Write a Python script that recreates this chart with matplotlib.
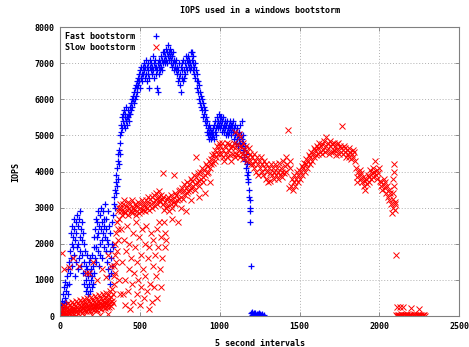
import matplotlib
matplotlib.use("Agg")
import matplotlib.pyplot as plt

# IOPS samples, (interval, iops)
fast = [
    # start, low
    (2,150),(5,300),(8,100),(12,420),(15,250),(18,600),(22,350),(25,800),(28,500),(32,950),
    (35,700),(38,400),(42,1100),(45,850),(48,600),(52,1300),(55,900),(58,1500),
    # first hump
    (62,1800),(65,1200),(68,2300),(70,1600),(72,2000),(75,2500),(78,1400),(80,2200),(82,1900),(85,2700),
    (88,1700),(90,2400),(92,1100),(95,2100),(98,2600),(100,1500),(103,2300),(105,1900),(108,2800),(110,1300),
    (112,2500),(115,2000),(118,1600),(120,2700),(122,2200),(125,1800),(128,2900),(130,2400),(132,1400),(135,2100),
    (138,2600),(140,1700),(142,2300),(145,1200),(148,2000),
    # dip
    (150,1500),(153,900),(156,1800),(158,1200),(160,700),(163,1400),(165,1000),(168,1700),(170,800),(172,1300),
    (175,600),(178,1100),(180,1500),(183,900),(185,1200),(188,700),(190,1600),(193,1000),(195,1300),(198,800),
    (200,1100),(203,1700),(205,900),(208,1400),(210,1900),(212,1200),(215,2200),(218,1600),
    # second hump
    (220,2400),(223,1900),(225,2700),(228,1500),(230,2200),(233,2600),(235,1800),(238,2900),(240,2300),(243,1400),
    (245,2500),(248,2000),(250,2800),(253,1700),(255,2400),(258,3000),(260,2100),(263,2600),(265,1600),(268,2900),
    (270,2300),(273,2700),(275,1900),(278,2500),(280,3100),(283,2200),(285,1800),(288,2700),(290,2400),(293,1500),
    (295,2100),(298,2900),(300,1300),(303,2000),(305,2500),(308,1100),(310,1800),(313,2300),(315,900),(318,1600),
    (320,1200),(323,2000),(325,1400),(328,2600),(330,1900),
    # ramp up
    (333,2800),(336,3100),(339,3300),(342,3000),(345,3500),(348,3700),(350,3400),(353,3900),(355,3600),(358,4100),
    (360,3800),(363,4300),(365,4500),(368,4200),(370,4600),(373,4800),(375,4500),(378,5000),(380,5100),
    # shoulder
    (383,5300),(386,5500),(389,5200),(392,5600),(395,5400),(398,5700),(401,5300),(404,5500),(407,5200),(410,5600),
    (413,5400),(416,5800),(419,5500),(422,5300),(425,5700),(428,5500),(431,5600),(434,5400),(437,5800),(440,5600),
    (443,5900),(446,5700),(449,6000),
    (452,5800),(455,6000),(458,6100),(461,5900),(464,6200),(467,6000),(470,6300),(473,6100),(476,6400),(479,6200),
    (482,6500),(485,6300),(488,6600),(491,6400),(494,6700),(497,6500),(500,6300),(503,6800),(506,6600),(509,6900),
    (512,6700),(515,6500),(518,6900),(521,6700),(524,7000),(527,6800),(530,6600),(533,6900),(536,7100),(539,6700),
    (542,6500),(545,6900),(548,6700),(551,7000),(554,6800),(557,6300),
    # top
    (560,6600),(563,6900),(566,7100),(569,6800),(572,7000),(575,6700),(578,6900),(581,7200),(584,6800),(587,7000),
    (590,6600),(593,6900),(596,7100),(599,6700),(602,6900),(605,6300),(608,6800),(611,6200),(614,7000),(617,6700),
    (620,6900),(623,7100),(626,6800),(629,7000),(632,7200),(635,6900),(638,7100),(641,6800),(644,7000),(647,7300),
    (650,7100),(653,7300),(656,7000),(659,7200),(662,7400),(665,7100),(668,7300),(671,7000),(674,7200),(677,7500),
    (680,7300),(683,7100),(686,7400),(689,7200),(692,7000),(695,7300),(698,7100),(701,6900),(704,7200),(707,7000),
    (710,7300),(713,6800),(716,7100),(719,6900),
    (722,7000),(725,6800),(728,7100),(731,6700),(734,6900),(737,6500),(740,6800),(743,6600),(746,7000),(749,6400),
    (752,6700),(755,6200),(758,6900),(761,6600),(764,7000),(767,6800),(770,6500),(773,7100),(776,6800),(779,6600),
    (782,7000),(785,6700),(788,7200),(791,6900),(794,7100),(797,6800),(800,7000),
    (803,7200),(806,6900),(809,7100),(812,6800),(815,7000),(818,7300),(821,6900),(824,7100),(827,7300),(830,7000),
    (833,6800),(836,7200),(839,6900),(842,6700),(845,7000),(848,6600),
    # falling
    (852,6800),(855,6500),(858,6700),(861,6300),(864,6500),(867,6200),(870,6400),(873,6000),(876,6200),(879,5900),
    (882,6100),(885,5800),(888,6000),(891,5700),(894,5900),(897,5500),(900,5800),(903,5600),(906,5400),(909,5700),
    (912,5300),(915,5500),(918,5100),(921,5400),(924,5200),(927,5000),(930,5300),(933,4900),(936,5100),(939,5000),
    (942,5200),(945,4900),(948,5100),
    # second plateau
    (951,4950),(954,5100),(957,5000),(960,5200),(963,4900),(966,5300),(969,5100),(972,5400),(975,5200),(978,5000),
    (981,5300),(984,5500),(987,5200),(990,5400),(993,5600),(996,5300),(999,5500),(1002,5400),(1005,5200),(1008,5500),
    (1011,5300),(1014,5100),(1017,5400),(1020,5200),(1023,5500),(1026,5300),(1029,5100),(1032,5400),(1035,5200),(1038,5000),
    (1041,5300),(1044,5100),(1047,5400),(1050,5200),(1053,5000),(1056,5300),(1059,5100),(1062,5400),(1065,5200),(1068,5300),
    (1071,5100),(1074,5000),(1077,5300),(1080,5200),(1083,5400),(1086,5100),(1089,4900),(1092,5200),(1095,5000),(1098,5300),
    (1101,4800),(1104,5100),(1107,4900),(1110,5200),(1113,5000),(1116,4700),(1119,5100),(1122,4900),(1125,5300),(1128,4800),
    (1131,5000),(1134,4700),(1137,5400),(1140,4900),(1143,4600),(1146,5000),(1149,4800),
    # drop off
    (1152,4600),(1155,4400),(1158,4700),(1161,4300),(1164,4500),(1167,4100),(1170,4200),(1173,3900),(1176,4000),(1178,3800),
    (1180,3700),(1182,3500),(1185,3300),(1187,3200),(1189,3000),(1191,2900),(1193,2600),(1196,1400),
    # done
    (1195,80),(1200,30),(1203,120),(1206,50),(1209,0),(1212,90),(1215,20),(1218,60),(1221,10),(1224,100),
    (1227,40),(1230,0),(1233,70),(1236,20),(1239,50),(1242,0),(1245,80),(1248,30),(1251,10),(1254,60),
    (1257,0),(1260,40),(1263,20),(1266,50),(1270,0),(1275,30),
]

slow = [
    # low band at start
    (0,0),(3,150),(6,60),(9,250),(12,30),(15,180),(18,90),(21,320),(24,40),(27,200),
    (30,120),(33,280),(36,70),(39,190),(42,10),(45,240),(48,130),(51,350),(54,80),(57,210),
    (60,150),(63,300),(66,50),(69,260),(72,180),(75,390),(78,100),(81,230),(84,160),(87,330),
    (90,70),(93,280),(96,200),(99,420),(102,120),(105,260),(108,180),(111,350),(114,90),(117,300),
    (120,210),(123,440),(126,140),(129,270),(132,190),(135,380),(138,100),(141,320),(144,230),(147,470),
    (150,160),(153,290),(156,210),(159,400),(162,130),(165,340),(168,250),(171,500),(174,170),(177,310),
    (180,230),(183,420),(186,150),(189,360),(192,270),(195,520),(198,190),(201,330),(204,250),(207,450),
    (210,160),(213,380),(216,290),(219,560),(222,200),(225,350),(228,270),(231,480),(234,180),(237,400),
    (240,310),(243,590),(246,220),(249,370),(252,290),(255,510),(258,200),(261,420),(264,330),(267,620),
    (270,240),(273,390),(276,310),(279,540),(282,220),(285,450),(288,350),(291,650),(294,260),(297,410),
    (300,330),(303,580),(306,250),(309,480),(312,380),(315,700),(318,290),(321,520),(324,420),(327,760),
    (330,350),(333,600),(336,900),(339,1100),
    (10,0),(50,20),(100,10),(150,30),(200,20),(250,40),(300,60),
    (13,1750),(25,1300),(57,1350),(80,1600),(120,1400),(160,1200),(182,1190),(205,1500),(230,1000),(260,1300),
    (287,1090),(300,1700),(320,1400),
    # jump
    (340,1400),(342,1700),(345,1200),(347,2000),(350,1500),(352,2300),(355,1800),(357,2600),(360,2100),(362,2900),
    (365,2400),(367,3000),(370,2700),(372,1000),(375,3100),(377,600),(380,2900),
    (383,3000),(388,2800),(393,3100),(398,2900),(403,3200),(408,2850),(413,3050),(418,2950),(423,3150),(428,2800),
    (433,3000),(438,3100),(443,2900),(448,3200),(453,2850),(458,3000),(463,2950),(468,3100),(473,2800),(478,3050),
    (483,2900),(488,3150),(493,2850),(498,3000),(503,3100),(508,2900),(513,3200),(518,2950),(523,3050),(528,3100),
    (533,2900),(538,3200),(543,3000),(548,3300),(553,3100),(558,2950),(563,3250),(568,3100),(573,3000),(578,3300),
    (583,3150),(588,3350),(593,3050),(598,3200),(603,3400),(608,3100),(613,3300),(618,3200),(623,3450),(628,3150),
    (633,3350),(638,3250),
    (385,2400),(390,1500),(395,600),(400,2100),(405,1000),(410,300),(415,1800),(420,2500),(425,700),(430,1300),
    (435,2000),(440,200),(445,1600),(450,900),(455,2300),(460,400),(465,1200),(470,1900),(475,2600),(480,600),
    (485,1500),(490,1000),(495,2200),(500,300),(505,1700),(510,800),(515,2400),(520,1300),(525,500),(530,2000),
    (535,1100),(540,2500),(545,700),(550,1600),(555,200),(560,1900),(565,900),(570,2300),(575,400),(580,1400),
    (585,2100),(590,800),(595,1700),(600,1100),(605,2400),(610,500),(615,1900),(620,2600),(625,1300),(630,2200),
    (635,800),(640,1600),(655,2300),(660,1900),(665,2100),(650,2600),
    # climb
    (643,3100),(648,3300),(653,2950),(658,3150),(663,3000),(668,3250),(673,3050),(678,3300),(683,2900),(688,3200),
    (693,3100),(698,3350),(703,3000),(708,3250),(713,3150),(718,3400),(723,3100),(728,3350),(733,3200),(738,2600),
    (743,3450),(748,3250),(753,3500),(758,3300),(763,3550),(768,3250),(773,3450),(778,3650),(783,3350),(788,3550),
    (793,3400),(798,3700),(803,3450),(808,3650),(813,3500),(818,3800),(823,3550),(828,3750),(833,3600),(838,3900),
    (843,3650),(848,3500),(853,3850),(858,3700),(863,3950),(868,3750),(873,3600),(878,4000),(883,3800),(888,4100),
    (893,3850),(898,3700),(903,4050),(908,3900),(913,4200),(918,3950),(923,4150),(928,4000),(933,4300),(938,4100),
    (943,4350),(948,4200),(953,4450),(958,4250),(963,4500),(968,4300),(973,4600),(978,4400),(983,4700),(988,4500),
    (993,4800),(998,4600),
    (700,2700),(760,3000),(820,3200),(790,2900),(870,3300),(905,3400),(940,3700),(642,3960),(715,3900),(850,4400),
    # plateau
    (1003,4700),(1008,4500),(1013,4800),(1018,4400),(1023,4600),(1028,4300),(1033,4700),(1038,4500),(1043,4800),(1048,4400),
    (1053,4600),(1058,4750),(1063,4450),(1068,4650),(1073,4300),(1078,4700),(1083,4500),(1088,4800),(1093,4400),(1098,4650),
    (1103,4500),(1108,4750),(1113,4450),(1118,4600),(1123,5050),(1128,4400),(1133,4700),(1138,4500),(1143,4800),(1148,4350),
    (1153,4600),(1158,4450),(1163,4700),(1168,4300),(1173,4550),(1178,4400),(1183,4650),(1188,4300),(1193,4500),(1198,4200),
    (1095,5100),(1125,4950),
    (1203,4400),(1208,4200),(1213,4500),(1218,4100),(1223,4300),(1228,4000),(1233,4400),(1238,4200),(1243,3900),(1248,4300),
    (1253,4100),(1258,4400),(1263,4000),(1268,4200),(1273,3900),(1278,4300),(1283,4100),(1288,3800),(1293,4200),(1298,4000),
    (1303,3700),(1308,4100),(1313,3750),(1318,3950),(1323,4200),(1328,3900),(1333,4100),(1338,3800),(1343,4000),(1348,4200),
    (1353,3900),(1358,4100),(1363,3800),(1368,4000),(1373,4250),(1378,3900),(1383,4100),(1388,3850),(1393,4000),(1398,4300),
    (1403,3950),(1408,4150),(1413,4400),(1418,4000),(1423,4200),(1428,5150),(1433,3550),(1438,4300),(1443,4100),(1448,3600),
    (1453,3800),(1458,3500),(1463,3700),(1468,3900),(1473,3600),(1478,3800),(1483,4000),(1488,3700),(1493,3900),(1498,4050),
    (1503,3800),(1508,4000),(1513,4150),(1518,3900),
    # second hump
    (1523,4100),(1528,4250),(1533,4000),(1538,4200),(1543,4350),(1548,4100),(1553,4300),(1558,4450),(1563,4200),(1568,4400),
    (1573,4550),(1578,4300),(1583,4500),(1588,4650),(1593,4400),(1598,4600),(1603,4450),(1608,4700),(1613,4500),(1618,4650),
    (1623,4800),(1628,4550),(1633,4700),(1638,4500),(1643,4750),(1648,4600),(1653,4850),(1658,4550),(1663,4700),(1668,4950),
    (1673,4600),(1678,4800),(1683,4500),(1688,4700),(1693,4850),(1698,4550),
    (1703,4750),(1708,4550),(1713,4800),(1718,4600),(1723,4700),(1728,4450),(1733,4750),(1738,4600),(1743,4800),(1748,4500),
    (1753,4700),(1758,4550),(1763,4650),(1768,5250),(1773,4500),(1778,4700),(1783,4550),(1788,4650),(1793,4400),(1798,4600),
    (1803,4500),(1808,4650),(1813,4400),(1818,4550),(1823,4350),(1828,4500),(1833,4600),(1838,4400),(1843,4550),(1848,4300),
    # tail off
    (1853,4100),(1858,3850),(1863,3700),(1868,4000),(1873,3900),(1878,4050),(1883,3800),(1888,3950),(1893,3700),(1898,3850),
    (1903,3600),(1908,3750),(1913,3500),(1918,3800),(1923,3650),(1928,3900),(1933,3700),(1938,3850),(1943,4050),(1948,3800),
    (1953,3950),(1958,4100),(1963,3850),(1968,4000),(1973,4300),(1978,3900),(1983,4050),(1988,3800),(1993,3950),(1998,4100),
    (2003,3750),(2008,3600),(2013,3700),(2018,3500),(2023,3650),(2028,3800),(2033,3550),(2038,3700),(2043,3400),(2048,3600),
    (2053,3300),(2058,3500),(2063,3200),(2068,3400),(2073,3100),(2078,2850),(2083,3250),(2088,3000),(2093,4200),(2096,3150),
    (2098,2950),(2100,3100),(2085,3800),(2090,4000),(2095,3600),(2088,3400),(2103,1700),
    # done
    (2105,20),(2110,0),(2115,40),(2120,10),(2125,30),(2130,0),(2135,50),(2140,20),(2145,0),(2150,30),
    (2155,10),(2160,40),(2165,0),(2170,20),(2175,50),(2180,10),(2185,30),(2190,0),(2195,40),(2200,20),
    (2205,0),(2210,30),(2215,10),(2220,50),(2225,20),(2230,0),(2235,30),(2240,10),(2245,40),(2250,0),
    (2255,20),(2260,30),(2265,10),(2270,0),(2275,40),(2280,20),(2285,0),
    (2110,260),(2130,250),(2150,240),(2200,220),(2250,200),
]

fast_x, fast_y = zip(*fast)
slow_x, slow_y = zip(*slow)

font = dict(family="DejaVu Sans Mono", weight="bold", size=6)

fig = plt.figure(figsize=(4.69, 3.47), dpi=100)
ax = fig.add_axes([0.128, 0.089, 0.851, 0.833])

ax.plot(fast_x, fast_y, ls="none", marker="+", ms=5, mew=0.9, color="#0000ff", label="Fast bootstorm")
ax.plot(slow_x, slow_y, ls="none", marker="x", ms=4, mew=0.7, color="#ff0000", label="Slow bootstorm")

ax.set_xlim(0, 2500)
ax.set_ylim(0, 8000)
ax.set_xticks(range(0, 2501, 500))
ax.set_yticks(range(0, 8001, 1000))
ax.grid(True, color="#b0b0b0", lw=0.7, ls=(0, (1, 2)))
ax.tick_params(direction="in", top=True, right=True, length=3, width=0.6, color="#808080", pad=4)
for lab in ax.get_xticklabels() + ax.get_yticklabels():
    lab.set_fontproperties(font)
for s in ax.spines.values():
    s.set_color("#808080")
    s.set_linewidth(0.8)

ax.set_title("IOPS used in a windows bootstorm", fontdict=font, pad=10)
ax.set_xlabel("5 second intervals", fontdict=font, labelpad=6)
ax.set_ylabel("IOPS", fontdict=font, labelpad=10)

leg = ax.legend(loc="upper left", markerfirst=False, frameon=False, handlelength=1.5,
                handletextpad=1.8, borderaxespad=0.2, labelspacing=0.2,
                prop=dict(family="DejaVu Sans Mono", weight="bold", size=6))

fig.savefig("out.png", dpi=100)
